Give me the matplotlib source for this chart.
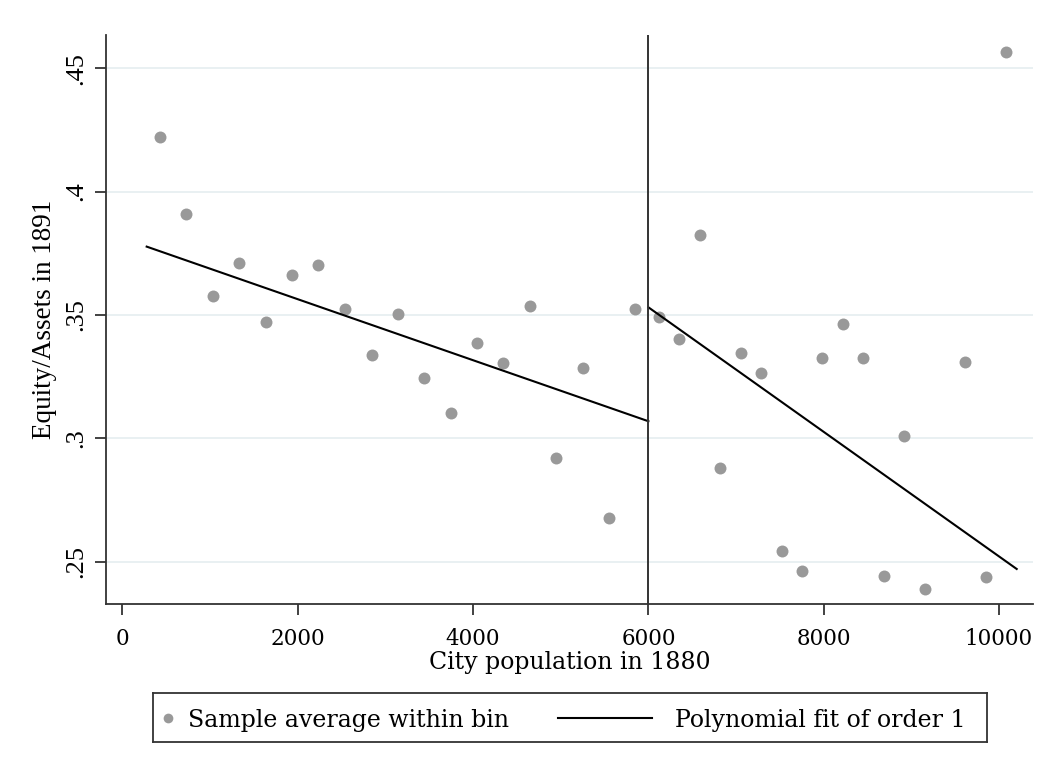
import matplotlib
matplotlib.use('Agg')
import matplotlib.pyplot as plt

# ---- data ----
left_bin_x = [428, 728, 1029, 1333, 1634, 1934, 2234, 2538, 2843, 3143,
              3443, 3744, 4045, 4345, 4649, 4949, 5250, 5550, 5851]
left_bin_y = [0.4223, 0.3910, 0.3577, 0.3710, 0.3473, 0.3661, 0.3702, 0.3523, 0.3338, 0.3505,
              0.3245, 0.3101, 0.3385, 0.3305, 0.3535, 0.2920, 0.3284, 0.2677, 0.3524]
right_bin_x = [6117, 6353, 6589, 6820, 7053, 7288, 7521, 7752, 7984, 8220,
               8452, 8685, 8920, 9152, 9616, 9848, 10083]
right_bin_y = [0.3491, 0.3403, 0.3823, 0.2881, 0.3345, 0.3265, 0.2544, 0.2461, 0.3327, 0.3463,
               0.3327, 0.2443, 0.3011, 0.2389, 0.3311, 0.2437, 0.4565]
fit_left_x = [276, 6000]
fit_left_y = [0.3777, 0.3069]
fit_right_x = [6000, 10202]
fit_right_y = [0.3531, 0.2470]
cutoff = 6000

x_ticks = [0, 2000, 4000, 6000, 8000, 10000]
x_tick_labels = ['0', '2000', '4000', '6000', '8000', '10000']
y_ticks = [0.25, 0.30, 0.35, 0.40, 0.45]
y_tick_labels = ['.25', '.3', '.35', '.4', '.45']

x_title = 'City population in 1880'
y_title = 'Equity/Assets in 1891'
legend_labels = ['Sample average within bin', 'Polynomial fit of order 1']

# ---- style ----
W, H = 1061, 782
dot_color = '#999999'
axis_color = '#333333'
grid_color = '#e9f0f2'
serif_y = 'Liberation Serif'
serif_x = 'DejaVu Serif'

fig = plt.figure(figsize=(W / 100, H / 100), dpi=100)
fig.patch.set_facecolor('white')

ax = fig.add_axes([106 / W, 1 - 604 / H, (1033 - 106) / W, (604 - 35) / H])
ax.set_xlim(-188, 10388)
ax.set_ylim(0.2328, 0.4635)

ax.grid(axis='y', color=grid_color, lw=1.4, zorder=0)
ax.set_axisbelow(True)

ax.plot(left_bin_x + right_bin_x, left_bin_y + right_bin_y, 'o', ms=8.6, mew=0,
        color=dot_color, zorder=3, label=legend_labels[0])
ax.plot(fit_left_x, fit_left_y, color='black', lw=1.5, zorder=4, label=legend_labels[1])
ax.plot(fit_right_x, fit_right_y, color='black', lw=1.5, zorder=4)
ax.axvline(cutoff, color='#333333', lw=1.4, zorder=4)

for s in ['top', 'right']:
    ax.spines[s].set_visible(False)
for s in ['left', 'bottom']:
    ax.spines[s].set_color(axis_color)
    ax.spines[s].set_linewidth(1.3)

ax.set_xticks(x_ticks)
ax.set_xticklabels(x_tick_labels, fontfamily=serif_x, fontsize=15.5)
ax.set_yticks(y_ticks)
ax.set_yticklabels(y_tick_labels, fontfamily=serif_y, fontsize=19, rotation=90,
                   va='center', ha='center')
ax.tick_params(axis='x', direction='out', length=8, width=1.3, color=axis_color, pad=9)
ax.tick_params(axis='y', direction='out', length=7.7, width=1.3, color=axis_color, pad=14)

ax.set_xlabel(x_title, fontfamily=serif_x, fontsize=17)
ax.xaxis.set_label_coords(0.5, (604 - 662) / (604 - 35))
ax.xaxis.label.set_verticalalignment('center')
ax.set_ylabel(y_title, fontfamily=serif_y, fontsize=19.5)
ax.yaxis.set_label_coords((45 - 106) / (1033 - 106), 0.5)
ax.yaxis.label.set_verticalalignment('center')

# ---- legend box (drawn beneath the plot, Stata style) ----
lx0, lx1, ly0, ly1 = 153, 987, 693, 742
lax = fig.add_axes([lx0 / W, 1 - ly1 / H, (lx1 - lx0) / W, (ly1 - ly0) / H])
lax.set_xlim(0, 1)
lax.set_ylim(0, 1)
lax.set_xticks([])
lax.set_yticks([])
for s in lax.spines.values():
    s.set_color('#333333')
    s.set_linewidth(1.3)
lw_ = lx1 - lx0
lax.plot([(168 - lx0) / lw_], [0.5], 'o', ms=7, mew=0, color=dot_color)
lax.text((188 - lx0) / lw_, 0.5, legend_labels[0], fontfamily=serif_x, fontsize=17,
         va='center_baseline', ha='left')
lax.plot([(558 - lx0) / lw_, (652 - lx0) / lw_], [0.5, 0.5], color='black', lw=1.5)
lax.text((675 - lx0) / lw_, 0.5, legend_labels[1], fontfamily=serif_x, fontsize=17,
         va='center_baseline', ha='left')

fig.savefig('out.png', dpi=100, facecolor='white')
